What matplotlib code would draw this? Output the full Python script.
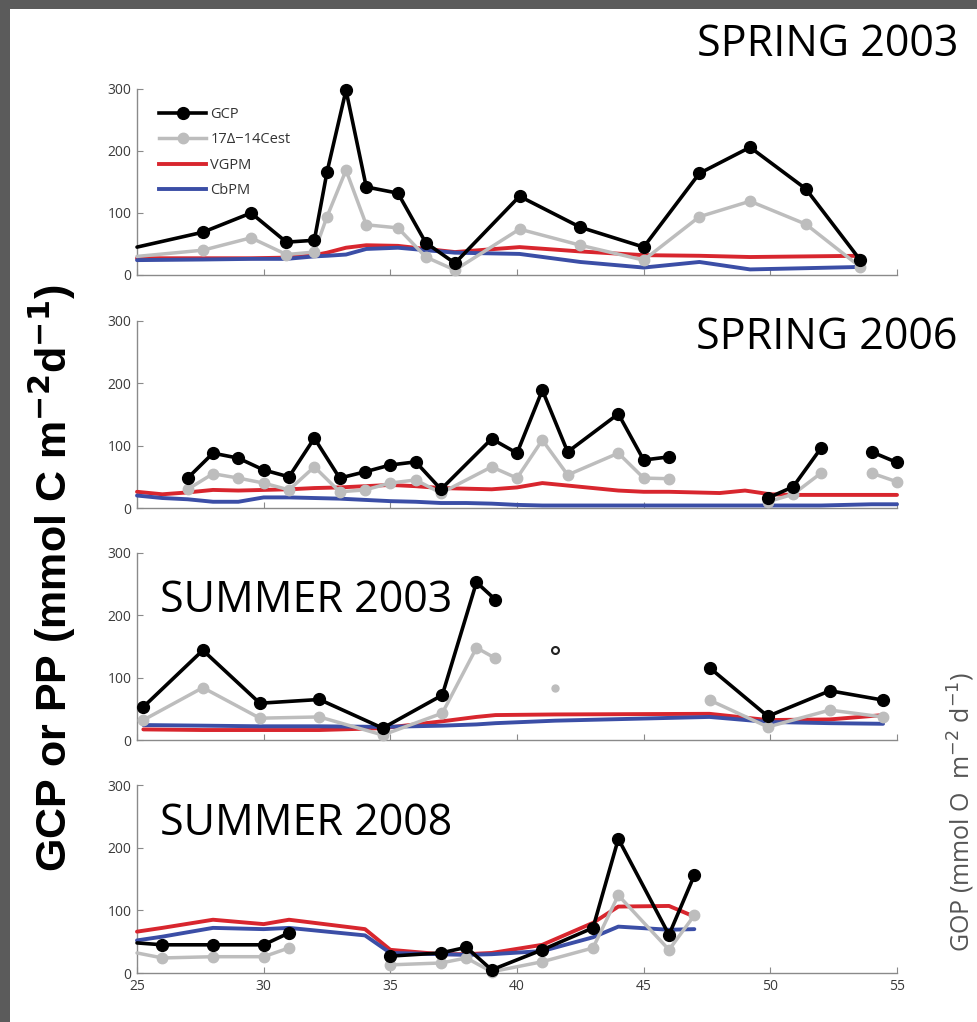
import numpy as np
import matplotlib
matplotlib.use("Agg")
import matplotlib.pyplot as plt
from matplotlib.lines import Line2D
from matplotlib.patches import Rectangle

nan = np.nan

# ---------------- data ----------------
panel_titles = ["SPRING 2003", "SPRING 2006", "SUMMER 2003", "SUMMER 2008"]
legend_labels = ["GCP", "17\u0394\u221214Cest", "VGPM", "CbPM"]
xticks = [25, 30, 35, 40, 45, 50, 55]
yticks = [0, 100, 200, 300]

# SPRING 2003
x1 = [25, 27.6, 29.5, 30.9, 32.0, 32.5, 33.25, 34.05, 35.3, 36.4, 37.55, 40.1, 42.5, 45.0, 47.2, 49.2, 51.4, 53.55]
gcp1 = [45, 69, 100, 53, 56, 166, 298, 142, 132, 52, 19, 127, 77, 45, 164, 206, 139, 24]
est1 = [30, 40, 60, 33, 37, 94, 169, 81, 76, 29, 8, 74, 48, 24, 94, 119, 82, 13]
vgpm1 = [27, 27, 27, 28, 32, 36, 44, 48, 47, 42, 37, 45, 38, 32, 31, 29, 30, 31]
cbpm1 = [24, 25, 26, 26, 30, 31, 33, 42, 44, 40, 36, 34, 21, 12, 21, 9, 11, 13]

# SPRING 2006
xg2 = [27, 28, 29, 30, 31, 32, 33, 34, 35, 36, 37, 39, 40, 41, 42, 44, 45, 46, 47, 49.9, 50.9, 52, 53, 54, 55]
gcp2 = [48, 88, 80, 61, 50, 112, 48, 58, 69, 74, 30, 111, 88, 189, 90, 151, 77, 82, nan, 16, 34, 96, nan, 90, 73]
est2 = [30, 55, 48, 40, 29, 66, 26, 29, 40, 45, 24, 66, 48, 109, 53, 88, 48, 47, nan, 10, 22, 56, nan, 56, 42]
x2 = [25, 26, 27, 28, 29, 30, 31, 32, 33, 34, 35, 36, 37, 38, 39, 40, 41, 42, 43, 44, 45, 46, 47, 48, 49, 50, 51, 52, 53, 54, 55]
vgpm2 = [26, 22, 25, 29, 28, 29, 30, 32, 33, 35, 37, 35, 32, 31, 30, 33, 40, 36, 32, 28, 26, 26, 25, 24, 28, 22, 21, 21, 21, 21, 21]
cbpm2 = [20, 16, 14, 10, 10, 17, 17, 16, 15, 13, 11, 10, 8, 8, 7, 5, 4, 4, 4, 4, 4, 4, 4, 4, 4, 4, 4, 4, 5, 6, 6]

# SUMMER 2003
x3 = [25.25, 27.6, 29.85, 32.2, 34.7, 37.05, 38.4, 39.15, 41.5, 47.6, 49.9, 52.35, 54.45]
gcp3 = [53, 144, 59, 65, 19, 72, 253, 225, nan, 116, 38, 79, 64]
est3 = [32, 84, 35, 37, 8, 43, 148, 131, nan, 64, 21, 48, 37]
vgpm3 = [17, 16, 16, 16, 19, 30, 37, 40, 41, 42, 32, 33, 40]
cbpm3 = [24, 23, 22, 22, 21, 23, 25, 27, 31, 37, 29, 27, 26]
iso_x3 = [41.5]
iso_gcp3 = [144]
iso_est3 = [83]

# SUMMER 2008
x4 = [25, 26, 28, 30, 31, 34, 35, 37, 38, 39, 41, 43, 44, 46, 47]
gcp4 = [48, 45, 45, 45, 64, nan, 27, 32, 41, 5, 37, 72, 214, 61, 156]
est4 = [32, 24, 26, 26, 40, nan, 13, 16, 24, 2, 18, 40, 124, 37, 92]
vgpm4 = [66, 72, 85, 78, 85, 70, 37, 30, 30, 32, 45, 80, 106, 107, 90]
cbpm4 = [52, 58, 72, 70, 72, 60, 32, 30, 29, 30, 35, 57, 74, 69, 70]

# ---------------- style ----------------
W, H = 977, 1022
C_GCP = "#000000"
C_EST = "#bdbdbd"
C_VGPM = "#d8262e"
C_CBPM = "#3b4ea6"
C_AX = "#8a8a8a"
TICKFONT = "Open Sans"
BIGFONT = "Open Sans"

fig = plt.figure(figsize=(W / 100, H / 100), dpi=100)
fig.patch.set_facecolor("white")

# slide border (gray strips on top and left)
fig.patches.append(Rectangle((0, 1 - 9 / H), 1, 9 / H, transform=fig.transFigure,
                             facecolor="#5b5b5b", edgecolor="none", zorder=0))
fig.patches.append(Rectangle((0, 0), 10 / W, 1, transform=fig.transFigure,
                             facecolor="#5b5b5b", edgecolor="none", zorder=0))


def px_axes(top, bottom, left=137, right=897):
    return [left / W, 1 - bottom / H, (right - left) / W, (bottom - top) / H]


panel_px = [(89, 275), (321, 508), (553, 740), (785, 973)]
axes = [fig.add_axes(px_axes(t, b)) for t, b in panel_px]

series = [
    (x1, gcp1, x1, est1, x1, vgpm1, cbpm1),
    (xg2, gcp2, xg2, est2, x2, vgpm2, cbpm2),
    (x3, gcp3, x3, est3, x3, vgpm3, cbpm3),
    (x4, gcp4, x4, est4, x4, vgpm4, cbpm4),
]

for i, ax in enumerate(axes):
    xg, g, xe, e, xm, v, c = series[i]
    kw = dict(clip_on=False, solid_joinstyle="round", solid_capstyle="round")
    ax.plot(xm, v, color=C_VGPM, lw=2.8, zorder=3, **kw)
    ax.plot(xm, c, color=C_CBPM, lw=2.8, zorder=3, **kw)
    me = list(range(1, len(xg))) if i in (0, 3) else None
    ax.plot(xe, e, color=C_EST, lw=2.5, marker="o", ms=7.5, mec=C_EST, mfc=C_EST,
            markevery=me, zorder=4, **kw)
    ax.plot(xg, g, color=C_GCP, lw=2.6, marker="o", ms=8.5, mec=C_GCP, mfc=C_GCP,
            markevery=me, zorder=5, **kw)
    ax.set_xlim(25, 55)
    ax.set_ylim(0, 300)
    for s in ("top", "right"):
        ax.spines[s].set_visible(False)
    for s in ("left", "bottom"):
        ax.spines[s].set_color(C_AX)
        ax.spines[s].set_linewidth(1.0)
    ax.set_xticks(xticks)
    ax.set_yticks(yticks)
    ax.tick_params(direction="in", length=4, width=0.8, color=C_AX,
                   labelsize=10, labelcolor="#3a3a3a", pad=4)
    for lab in ax.get_yticklabels() + ax.get_xticklabels():
        lab.set_fontfamily(TICKFONT)
    if i < 3:
        ax.set_xticklabels([])
    ax.patch.set_alpha(0)

# isolated points in SUMMER 2003
axes[2].plot(iso_x3, iso_gcp3, ls="none", marker="o", ms=5, mfc="white", mec="#222222",
             mew=1.5, clip_on=False, zorder=5)
axes[2].plot(iso_x3, iso_est3, ls="none", marker="o", ms=5, mfc=C_EST, mec=C_EST,
             clip_on=False, zorder=4)

# legend
handles = [
    Line2D([], [], color=C_GCP, lw=2.6, marker="o", ms=8.5),
    Line2D([], [], color=C_EST, lw=2.5, marker="o", ms=7.5),
    Line2D([], [], color=C_VGPM, lw=2.8),
    Line2D([], [], color=C_CBPM, lw=2.8),
]
leg = axes[0].legend(handles, legend_labels, loc="upper left", bbox_to_anchor=(0.012, 0.975),
                     frameon=False, handlelength=3.2, handletextpad=0.3, labelspacing=0.72,
                     prop={"family": TICKFONT, "size": 10.5})
for t in leg.get_texts():
    t.set_color("#333333")

# panel titles
def ftext(x, y, s, **k):
    fig.text(x / W, 1 - y / H, s, **k)

ftext(958, 45, panel_titles[0], ha="right", va="center", fontsize=31, family=BIGFONT)
ftext(958, 338, panel_titles[1], ha="right", va="center", fontsize=31, family=BIGFONT)
ftext(160, 601, panel_titles[2], ha="left", va="center", fontsize=31, family=BIGFONT)
ftext(160, 824, panel_titles[3], ha="left", va="center", fontsize=31, family=BIGFONT)

# axis labels
ftext(52, 578, r"GCP or PP (mmol C m$^{\mathbf{-2}}$d$^{\mathbf{-1}}$)", rotation=90,
      ha="center", va="center", fontsize=31, fontweight="bold", family="Liberation Sans")
ftext(961, 812, r"GOP (mmol O  m$^{-2}$ d$^{-1}$)", rotation=90, ha="center", va="center",
      fontsize=18, color="#555555", family=TICKFONT)

fig.savefig("out.png", dpi=100, facecolor=fig.get_facecolor())
